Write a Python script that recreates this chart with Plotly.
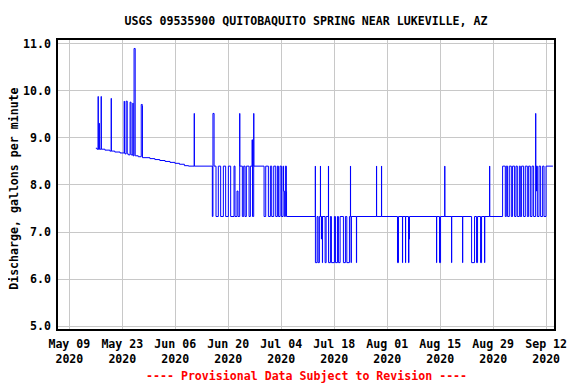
import pandas as pd
import plotly.graph_objects as go

# Time of each reading, in days after 2020-05-09 00:00, and discharge (gal/min)
t_days = [
    7.00, 7.30, 7.60, 7.65, 7.88, 7.93, 8.40, 8.45, 9.40, 10.70, 11.06, 11.10,
    12.00, 13.40, 14.50, 14.54, 14.70, 15.00, 15.30, 15.60, 16.05, 16.30, 16.80,
    16.84, 17.10, 17.40, 18.20, 19.00, 19.28, 19.32, 21.30, 22.60, 23.90, 25.30,
    26.60, 27.90, 29.10, 30.40, 31.50, 33.00, 33.04,
    # mid June - early July
    37.79, 37.95, 38.25, 38.76, 39.37, 39.99, 40.70, 41.31, 42.02, 42.63, 43.52,
    43.78, 44.31, 44.58, 45.02, 45.05, 45.72, 46.08, 46.43, 46.78, 47.49, 47.84,
    48.28, 48.40, 48.72, 48.76, 51.46, 51.90, 52.60, 53.13, 53.48, 54.01, 54.54,
    54.98, 55.25, 55.69, 56.04, 56.48, 56.60, 56.83, 57.10, 57.36, 57.40,
    # July
    65.00, 65.03, 65.48, 65.74, 66.08, 66.35, 66.38, 66.60, 66.65, 66.88, 66.92,
    67.59, 67.86, 68.47, 68.50, 68.99, 69.26, 70.05, 70.32, 70.85, 71.11, 71.56,
    72.43, 72.96, 73.33, 74.02, 74.29, 74.32, 74.47, 74.52, 75.87, 75.92, 81.17,
    81.21, 82.49, 82.53,
    # August
    86.72, 86.98, 88.04, 88.08, 88.84, 88.88, 89.63, 89.75, 89.89, 97.04, 97.08,
    97.83, 98.10, 99.20, 99.24, 101.01, 101.05, 103.92, 103.96, 106.30, 107.09,
    107.62, 107.88, 108.68, 108.94, 109.74, 109.78, 111.06, 111.10,
    # late August - September
    114.50, 115.21, 115.48, 115.82, 116.27, 116.80, 117.14, 117.67, 118.04, 118.39,
    118.92, 119.18, 119.52, 120.05, 120.50, 121.03, 121.38, 121.83, 122.27, 122.70,
    123.23, 123.27, 123.45, 123.50, 123.68, 124.13, 124.55, 125.08, 125.45, 125.98,
    127.80,
]
discharge = [
    8.78, 8.76, 9.88, 8.76, 9.31, 8.76, 9.88, 8.76, 8.74, 8.72, 9.84, 8.72,
    8.70, 8.68, 9.78, 8.68, 8.66, 9.78, 8.66, 8.64, 9.76, 8.64, 9.74,
    8.62, 10.90, 8.62, 8.60, 9.71, 9.69, 8.58, 8.56, 8.54, 8.52, 8.50,
    8.48, 8.46, 8.44, 8.41, 8.40, 9.52, 8.40,
    7.33, 9.52, 8.40, 7.33, 8.40, 7.33, 8.40, 7.33, 8.40, 7.33, 8.40,
    7.33, 7.87, 7.33, 9.52, 8.40, 7.33, 8.40, 7.33, 8.40, 7.33, 8.40,
    8.96, 7.33, 9.52, 8.40, 7.33, 8.40, 7.33, 8.40, 7.33, 8.40, 7.33,
    8.40, 7.33, 8.40, 7.33, 8.40, 7.87, 7.33, 8.40, 7.87, 7.33,
    8.40, 6.35, 7.33, 6.35, 7.33, 8.40, 7.33, 6.85, 7.33, 6.35, 7.33,
    6.35, 7.33, 8.40, 6.35, 7.33, 6.35, 7.33, 6.35, 7.33, 6.35, 7.33,
    6.35, 7.33, 6.35, 7.33, 8.40, 7.33, 6.35, 7.33, 6.35, 7.33, 8.40,
    7.33, 8.40, 7.33,
    6.35, 7.33, 6.35, 7.33, 6.35, 7.33, 6.35, 6.85, 7.33, 6.35, 7.33,
    6.35, 7.33, 8.40, 7.33, 6.35, 7.33, 6.35, 7.33, 6.35, 7.33,
    6.35, 7.33, 6.35, 7.33, 6.35, 7.33, 8.40, 7.33,
    8.40, 7.33, 8.40, 7.33, 8.40, 7.33, 8.40, 7.33, 8.40, 7.33,
    8.40, 7.33, 8.40, 7.33, 8.40, 7.33, 8.40, 7.33, 8.40, 7.33,
    9.52, 8.40, 7.87, 8.40, 7.33, 8.40, 7.33, 8.40, 7.33, 8.40,
    8.40,
]

tick_dates = ["2020-05-09", "2020-05-23", "2020-06-06", "2020-06-20", "2020-07-04",
              "2020-07-18", "2020-08-01", "2020-08-15", "2020-08-29", "2020-09-12"]
tick_text = ["May 09<br>2020", "May 23<br>2020", "Jun 06<br>2020", "Jun 20<br>2020",
             "Jul 04<br>2020", "Jul 18<br>2020", "Aug 01<br>2020", "Aug 15<br>2020",
             "Aug 29<br>2020", "Sep 12<br>2020"]
y_ticks = [5.0, 6.0, 7.0, 8.0, 9.0, 10.0, 11.0]

base = pd.Timestamp("2020-05-09")
times = [base + pd.Timedelta(days=d) for d in t_days]

FONT = "DejaVu Sans Mono"
fsize = 11.6

# the page body has an 8px margin, so the figure is drawn 8px smaller
W, H = 568, 376

fig = go.Figure()
fig.add_trace(go.Scatter(
    x=times, y=discharge, mode="lines", line=dict(color="#0000ff", width=1, shape="hv"),
    showlegend=False, hoverinfo="x+y"))

fig.update_layout(
    width=W, height=H,
    margin=dict(l=50, r=22, t=32, b=55, autoexpand=False),
    paper_bgcolor="white", plot_bgcolor="white",
    title=dict(text="USGS 09535900 QUITOBAQUITO SPRING NEAR LUKEVILLE, AZ",
               x=0.5, xref="paper", y=1 - 13 / H, yref="container",
               xanchor="center", yanchor="middle",
               font=dict(family=FONT, size=fsize, color="black", weight="bold")),
    font=dict(family=FONT, size=fsize, color="black", weight="bold"),
)
fig.update_xaxes(
    type="date", range=["2020-05-06 00:00", "2020-09-14 02:00"],
    tickvals=tick_dates, ticktext=tick_text, ticks="",
    showgrid=True, gridcolor="#c8c8c8", gridwidth=1,
    showline=True, linecolor="black", linewidth=1.5, mirror=True,
    zeroline=False, automargin=False, ticklabelstandoff=3,
    tickfont=dict(family=FONT, size=fsize, color="black", weight="bold"),
)
fig.update_yaxes(
    range=[4.94, 11.08], tickvals=y_ticks, tickformat=".1f", ticks="",
    showgrid=True, gridcolor="#c8c8c8", gridwidth=1,
    showline=True, linecolor="black", linewidth=1.5, mirror=True,
    zeroline=False, automargin=False, ticklabelstandoff=3,
    tickfont=dict(family=FONT, size=fsize, color="black", weight="bold"),
)
fig.add_annotation(
    text="Discharge, gallons per minute", textangle=-90,
    xref="paper", yref="paper", x=(14 - 58) / 496, y=0.485,
    xanchor="center", yanchor="middle", showarrow=False,
    font=dict(family=FONT, size=fsize, color="black", weight="bold"))
fig.add_annotation(
    text="---- Provisional Data Subject to Revision ----",
    xref="paper", yref="paper", x=0.5, y=-(376.5 - 329) / 289.5,
    xanchor="center", yanchor="middle", showarrow=False,
    font=dict(family=FONT, size=fsize, color="red", weight="bold"))

fig.write_html("out.html")
